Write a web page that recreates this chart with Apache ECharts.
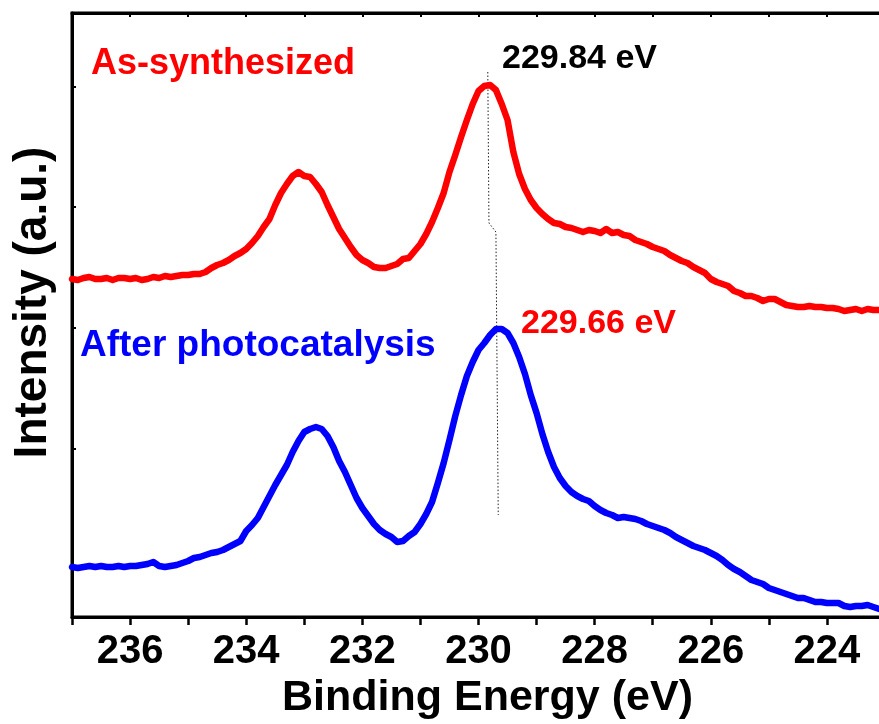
<!DOCTYPE html>
<html>
<head>
<meta charset="utf-8">
<script src="https://cdn.jsdelivr.net/npm/echarts@6/dist/echarts.min.js"></script>
<style>
  html, body { margin: 0; padding: 0; background: #ffffff; }
  #chart { width: 879px; height: 724px; }
</style>
</head>
<body>
<div id="chart"></div>
<script>
// Ti 2p3/2 region: binding energy grid (eV), 0.1 eV steps from 237.0 down to 223.0
const energy = [
  237.0, 236.9, 236.8, 236.7, 236.6, 236.5, 236.4, 236.3, 236.2, 236.1,
  236.0, 235.9, 235.8, 235.7, 235.6, 235.5, 235.4, 235.3, 235.2, 235.1,
  235.0, 234.9, 234.8, 234.7, 234.6, 234.5, 234.4, 234.3, 234.2, 234.1,
  234.0, 233.9, 233.8, 233.7, 233.6, 233.5, 233.4, 233.3, 233.2, 233.1,
  233.0, 232.9, 232.8, 232.7, 232.6, 232.5, 232.4, 232.3, 232.2, 232.1,
  232.0, 231.9, 231.8, 231.7, 231.6, 231.5, 231.4, 231.3, 231.2, 231.1,
  231.0, 230.9, 230.8, 230.7, 230.6, 230.5, 230.4, 230.3, 230.2, 230.1,
  230.0, 229.9, 229.8, 229.7, 229.6, 229.5, 229.4, 229.3, 229.2, 229.1,
  229.0, 228.9, 228.8, 228.7, 228.6, 228.5, 228.4, 228.3, 228.2, 228.1,
  228.0, 227.9, 227.8, 227.7, 227.6, 227.5, 227.4, 227.3, 227.2, 227.1,
  227.0, 226.9, 226.8, 226.7, 226.6, 226.5, 226.4, 226.3, 226.2, 226.1,
  226.0, 225.9, 225.8, 225.7, 225.6, 225.5, 225.4, 225.3, 225.2, 225.1,
  225.0, 224.9, 224.8, 224.7, 224.6, 224.5, 224.4, 224.3, 224.2, 224.1,
  224.0, 223.9, 223.8, 223.7, 223.6, 223.5, 223.4, 223.3, 223.2, 223.1,
  223.0
];

// As-synthesized sample (offset upward for clarity)
const asSynthesized = [
  3.38, 3.37, 3.39, 3.40, 3.38, 3.38, 3.39, 3.37, 3.39, 3.39,
  3.38, 3.39, 3.37, 3.38, 3.40, 3.39, 3.41, 3.40, 3.41, 3.42,
  3.42, 3.43, 3.43, 3.45, 3.49, 3.52, 3.54, 3.57, 3.61, 3.64,
  3.68, 3.74, 3.81, 3.90, 3.98, 4.12, 4.24, 4.33, 4.41, 4.45,
  4.41, 4.40, 4.33, 4.25, 4.12, 4.00, 3.88, 3.79, 3.70, 3.62,
  3.57, 3.54, 3.50, 3.49, 3.49, 3.51, 3.53, 3.58, 3.59, 3.66,
  3.73, 3.83, 3.95, 4.09, 4.24, 4.45, 4.62, 4.80, 4.97, 5.13,
  5.26, 5.31, 5.32, 5.27, 5.13, 4.97, 4.65, 4.43, 4.28, 4.17,
  4.09, 4.03, 3.98, 3.94, 3.93, 3.90, 3.89, 3.87, 3.85, 3.87,
  3.86, 3.84, 3.88, 3.84, 3.85, 3.82, 3.81, 3.77, 3.75, 3.73,
  3.70, 3.68, 3.66, 3.62, 3.59, 3.56, 3.54, 3.50, 3.47, 3.44,
  3.38, 3.35, 3.33, 3.31, 3.26, 3.24, 3.21, 3.21, 3.19, 3.16,
  3.18, 3.18, 3.15, 3.12, 3.11, 3.10, 3.10, 3.11, 3.10, 3.10,
  3.09, 3.09, 3.08, 3.06, 3.07, 3.08, 3.06, 3.08, 3.07, 3.07,
  3.08
];

// Sample after photocatalysis
const afterPhotocatalysis = [
  0.50, 0.49, 0.50, 0.51, 0.50, 0.51, 0.50, 0.50, 0.51, 0.50,
  0.51, 0.51, 0.52, 0.53, 0.55, 0.51, 0.50, 0.51, 0.52, 0.54,
  0.56, 0.59, 0.60, 0.62, 0.64, 0.65, 0.67, 0.70, 0.73, 0.76,
  0.86, 0.92, 0.99, 1.10, 1.21, 1.32, 1.42, 1.52, 1.65, 1.76,
  1.85, 1.88, 1.90, 1.88, 1.81, 1.70, 1.56, 1.45, 1.32, 1.19,
  1.09, 1.01, 0.93, 0.87, 0.83, 0.80, 0.75, 0.76, 0.81, 0.85,
  0.93, 1.03, 1.15, 1.34, 1.54, 1.77, 2.01, 2.22, 2.41, 2.55,
  2.67, 2.74, 2.82, 2.88, 2.88, 2.84, 2.74, 2.60, 2.43, 2.22,
  2.04, 1.83, 1.65, 1.50, 1.39, 1.31, 1.25, 1.21, 1.18, 1.16,
  1.11, 1.07, 1.04, 1.02, 0.99, 1.00, 0.99, 0.98, 0.96, 0.93,
  0.91, 0.89, 0.87, 0.84, 0.80, 0.77, 0.74, 0.71, 0.69, 0.67,
  0.64, 0.61, 0.57, 0.52, 0.48, 0.45, 0.41, 0.37, 0.35, 0.33,
  0.29, 0.27, 0.25, 0.23, 0.21, 0.19, 0.19, 0.17, 0.15, 0.15,
  0.14, 0.14, 0.14, 0.11, 0.10, 0.11, 0.11, 0.12, 0.10, 0.08,
  0.08
];

// Ti 2p3/2 peak positions (eV)
const peakAsSynthesized = 229.84;
const peakAfter = 229.66;

// Dotted guide joining the two peak maxima
const guideEnergy = [peakAsSynthesized, 229.82, 229.70, peakAfter];
const guideIntensity = [5.45, 3.94, 3.85, 1.02];

// Axis ticks / range
const majorTicks = [236, 234, 232, 230, 228, 226, 224];
const intensityTicks = [1.68, 2.89, 4.10, 5.30];
const intensityMax = 6.04;

const FONT = "'Liberation Sans', Arial, Helvetica, sans-serif";

const pairs = (xs, ys) => xs.map((x, i) => [x, ys[i]]);

// Free-standing annotation text (sample names and peak positions)
const note = (text, left, top, size, color) => ({
  text: text,
  left: left,
  top: top,
  padding: 0,
  itemGap: 0,
  textStyle: { fontFamily: FONT, fontWeight: 'bold', fontSize: size, color: color }
});

const chart = echarts.init(document.getElementById('chart'), null, { renderer: 'canvas' });

chart.setOption({
  backgroundColor: '#ffffff',
  animation: false,
  title: [
    note('As-synthesized', 91, 46, 36, '#ff0000'),
    note('After photocatalysis', 80, 327, 37, '#0000ff'),
    note(peakAsSynthesized.toFixed(2) + ' eV', 502, 42, 34, '#000000'),
    note(peakAfter.toFixed(2) + ' eV', 521, 307, 34, '#ff0000')
  ],
  grid: {
    // plot box runs slightly past the right edge of the canvas; keep it fixed
    left: 72, top: 13, width: 813, height: 604,
    outerBoundsMode: 'none',
    show: true, borderColor: '#000', borderWidth: 3, backgroundColor: 'transparent'
  },
  xAxis: [
    {
      type: 'value',
      position: 'bottom',
      min: 223,
      max: 237,
      interval: 1,
      inverse: true,
      name: 'Binding Energy (eV)',
      nameLocation: 'middle',
      nameGap: 55,
      nameTextStyle: { fontFamily: FONT, fontWeight: 'bold', fontSize: 43, color: '#000', padding: [0, 0, 0, 18] },
      axisLine: { show: true, onZero: false, lineStyle: { color: '#000', width: 3 } },
      axisTick: { show: true, inside: false, length: 8, lineStyle: { color: '#000', width: 2.5 } },
      axisLabel: { show: true, customValues: majorTicks, margin: 15, fontFamily: FONT, fontWeight: 'bold', fontSize: 40, color: '#000' },
      splitLine: { show: false }
    },
    {
      type: 'value',
      position: 'top',
      min: 223,
      max: 237,
      interval: 1,
      inverse: true,
      axisLine: { show: true, onZero: false, lineStyle: { color: '#000', width: 3 } },
      axisTick: { show: true, inside: true, length: 4, lineStyle: { color: '#000', width: 2 } },
      axisLabel: { show: false },
      splitLine: { show: false }
    }
  ],
  yAxis: {
    type: 'value',
    min: 0,
    max: intensityMax,
    name: 'Intensity (a.u.)',
    nameLocation: 'middle',
    nameRotate: 90,
    nameGap: 16,
    nameTextStyle: { fontFamily: FONT, fontWeight: 'bold', fontSize: 46, color: '#000', padding: [0, 0, 0, 25] },
    axisLine: { show: true, onZero: false, lineStyle: { color: '#000', width: 3 } },
    axisTick: { show: true, inside: true, length: 4, customValues: intensityTicks, lineStyle: { color: '#000', width: 2 } },
    axisLabel: { show: false },
    splitLine: { show: false }
  },
  series: [
    {
      name: 'As-synthesized',
      type: 'line',
      xAxisIndex: 0,
      data: pairs(energy, asSynthesized),
      showSymbol: false,
      clip: true,
      lineStyle: { color: '#ff0000', width: 6.5, join: 'round', cap: 'round' },
      itemStyle: { color: '#ff0000' },
      z: 3
    },
    {
      name: 'After photocatalysis',
      type: 'line',
      xAxisIndex: 0,
      data: pairs(energy, afterPhotocatalysis),
      showSymbol: false,
      clip: true,
      lineStyle: { color: '#0000ff', width: 6.5, join: 'round', cap: 'round' },
      itemStyle: { color: '#0000ff' },
      z: 3
    },
    {
      name: 'peak shift',
      type: 'line',
      xAxisIndex: 0,
      data: pairs(guideEnergy, guideIntensity),
      showSymbol: false,
      lineStyle: { color: '#222', width: 1, type: [1.5, 2] },
      z: 2
    }
  ]
});
</script>
</body>
</html>
